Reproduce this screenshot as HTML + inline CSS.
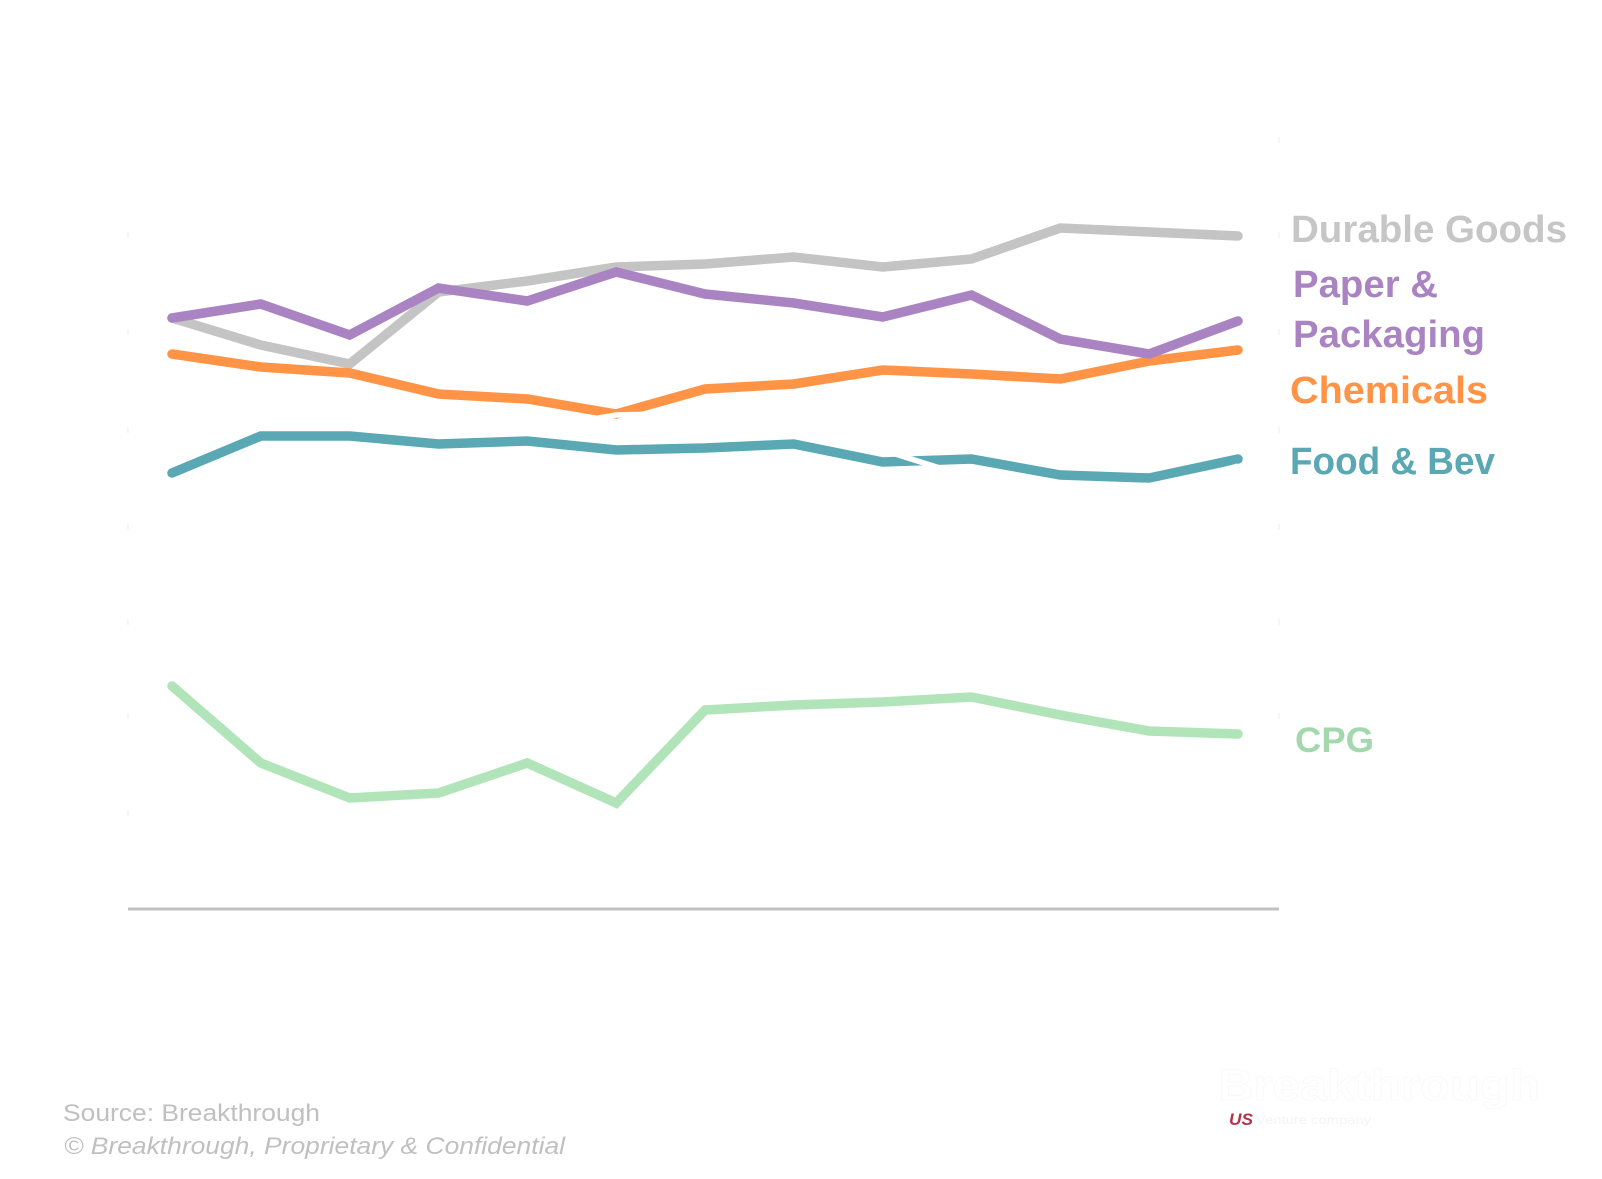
<!DOCTYPE html>
<html>
<head>
<meta charset="utf-8">
<style>
  html,body{margin:0;padding:0;background:#ffffff;}
  body{width:1602px;height:1179px;overflow:hidden;}
  svg{display:block;}
</style>
</head>
<body>
<svg width="1602" height="1179" viewBox="0 0 1602 1179" xmlns="http://www.w3.org/2000/svg">
  <rect x="0" y="0" width="1602" height="1179" fill="#ffffff"/>

  <!-- faint tick marks -->
  <g stroke="#f2f2f2" stroke-width="1.5">
    <line x1="128" y1="232" x2="128" y2="238"/>
    <line x1="128" y1="329" x2="128" y2="335"/>
    <line x1="128" y1="427" x2="128" y2="433"/>
    <line x1="128" y1="524" x2="128" y2="530"/>
    <line x1="128" y1="619" x2="128" y2="625"/>
    <line x1="128" y1="713" x2="128" y2="719"/>
    <line x1="128" y1="810" x2="128" y2="816"/>
    <line x1="1279" y1="137" x2="1279" y2="143"/>
    <line x1="1279" y1="232" x2="1279" y2="238"/>
    <line x1="1279" y1="329" x2="1279" y2="335"/>
    <line x1="1279" y1="427" x2="1279" y2="433"/>
    <line x1="1279" y1="524" x2="1279" y2="530"/>
    <line x1="1279" y1="619" x2="1279" y2="625"/>
    <line x1="1279" y1="713" x2="1279" y2="719"/>
  </g>

  <!-- baseline -->
  <line x1="128" y1="909" x2="1279" y2="909" stroke="#c0c0c0" stroke-width="3"/>

  <g fill="none" stroke-width="9.5" stroke-linecap="round" stroke-linejoin="miter" stroke-miterlimit="4">
    <!-- Durable Goods -->
    <polyline stroke="#c4c4c4" points="172,318 260.8,345 349.7,364 438.5,292 527.3,281 616.2,267 705,264 793.8,257 882.7,267 971.5,259 1060.3,228 1149.2,232 1238,236"/>
    <!-- Chemicals -->
    <polyline stroke="#ff9447" points="172,354 260.8,367 349.7,373 438.5,394 527.3,399 616.2,414 705,389 793.8,384 882.7,370 971.5,374 1060.3,379 1149.2,361 1238,350"/>
    <!-- Food & Bev -->
    <polyline stroke="#59a8b4" points="172,473 260.8,436 349.7,436 438.5,444 527.3,441 616.2,450 705,448 793.8,444 882.7,462 971.5,459 1060.3,475 1149.2,478 1238,459"/>
  </g>

  <!-- hidden white series cutting through -->
  <polyline fill="none" stroke="#ffffff" stroke-width="5.5" stroke-linejoin="miter" stroke-linecap="butt"
    points="172,432 260.8,421 349.7,418 438.5,423 527.3,430 616.2,415 705,413 793.8,425 882.7,450 971.5,478 1060.3,488 1149.2,490 1238,466"/>

  <g fill="none" stroke-width="9.5" stroke-linecap="round" stroke-linejoin="miter" stroke-miterlimit="4">
    <!-- Paper & Packaging -->
    <polyline stroke="#aa83c3" points="172,318 260.8,304 349.7,335 438.5,288 527.3,301 616.2,272 705,294 793.8,303 882.7,317 971.5,295 1060.3,339 1149.2,354 1238,321"/>
    <!-- CPG -->
    <polyline stroke="#b1e4b9" points="172,686 260.8,763 349.7,798 438.5,793 527.3,763 616.2,803 705,710 793.8,705 882.7,702 971.5,697 1060.3,715 1149.2,731 1238,734"/>
  </g>

  <!-- series labels -->
  <g font-family="'Liberation Sans', Arial, sans-serif" font-weight="bold">
    <text x="1291" y="242" font-size="38" fill="#c6c6c6" textLength="276" lengthAdjust="spacingAndGlyphs">Durable Goods</text>
    <text x="1293" y="297" font-size="38" fill="#aa83c3" textLength="145" lengthAdjust="spacingAndGlyphs">Paper &amp;</text>
    <text x="1293" y="347" font-size="38" fill="#aa83c3" textLength="192" lengthAdjust="spacingAndGlyphs">Packaging</text>
    <text x="1290" y="403" font-size="38" fill="#ff9447" textLength="198" lengthAdjust="spacingAndGlyphs">Chemicals</text>
    <text x="1290" y="474" font-size="38" fill="#59a8b4" textLength="205" lengthAdjust="spacingAndGlyphs">Food &amp; Bev</text>
    <text x="1295" y="752" font-size="35" fill="#a2d8ab" textLength="79" lengthAdjust="spacingAndGlyphs">CPG</text>
  </g>

  <!-- footer -->
  <g font-family="'Liberation Sans', Arial, sans-serif" fill="#c0c0c0">
    <text x="63" y="1121" font-size="24.5" textLength="257" lengthAdjust="spacingAndGlyphs">Source: Breakthrough</text>
    <text x="64" y="1154" font-size="24.5" font-style="italic" textLength="501" lengthAdjust="spacingAndGlyphs">© Breakthrough, Proprietary &amp; Confidential</text>
  </g>

  <!-- logo (white wordmark on white) -->
  <g font-family="'Liberation Sans', Arial, sans-serif">
    <text x="1218" y="1100" font-size="44" font-weight="bold" fill="#ffffff" stroke="#f7f7f7" stroke-width="0.6" textLength="322" lengthAdjust="spacingAndGlyphs">Breakthrough</text>
    <text x="1229" y="1125" font-size="17" font-weight="bold" font-style="italic" fill="#b3334a" textLength="24" lengthAdjust="spacingAndGlyphs">US</text>
    <text x="1256" y="1124" font-size="12" fill="#f4f4f4" textLength="115" lengthAdjust="spacingAndGlyphs">Venture company</text>
  </g>
</svg>
</body>
</html>
